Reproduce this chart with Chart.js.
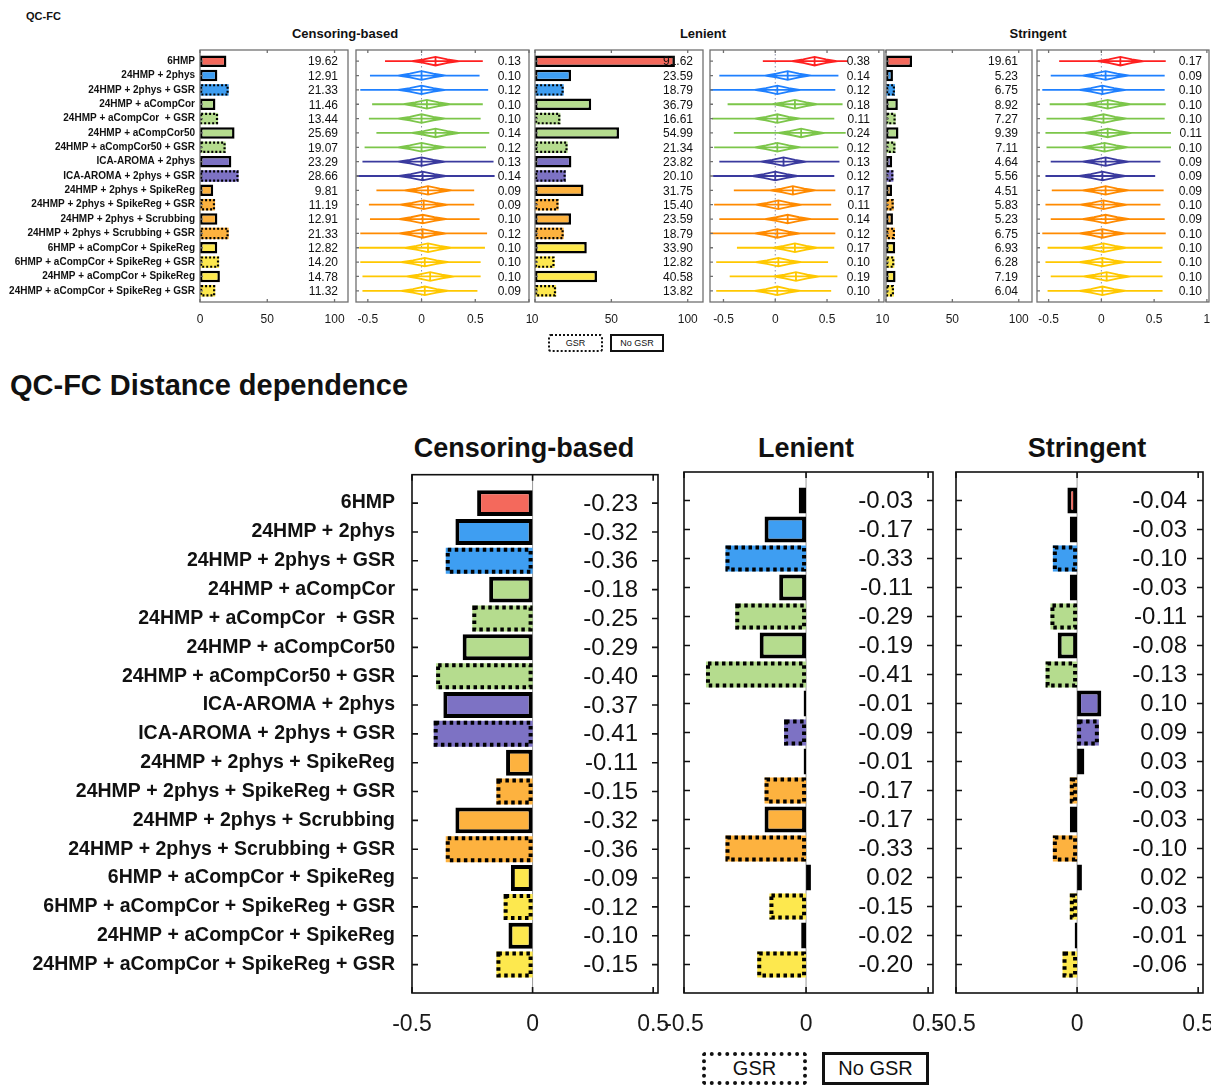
<!DOCTYPE html>
<html>
<head>
<meta charset="utf-8">
<script src="https://cdn.jsdelivr.net/npm/chart.js@4.4.1/dist/chart.umd.min.js"></script>
<style>
  body { margin: 0; width: 1211px; height: 1086px; position: relative; overflow: hidden; background: #fff;
         font-family: "Liberation Sans", Arial, sans-serif; color: #111; }
  .t { position: absolute; white-space: nowrap; font-weight: bold; transform: translate(-50%, -50%); }
  .lg { position: absolute; box-sizing: border-box; display: flex; align-items: center; justify-content: center; border-color: #000; }
</style>
</head>
<body>

<div style="position:absolute;left:26px;top:10px;font-size:11px;font-weight:bold;">QC-FC</div>
<div class="t" style="left:345px;top:33px;font-size:13px;">Censoring-based</div>
<div class="t" style="left:703px;top:33px;font-size:13px;">Lenient</div>
<div class="t" style="left:1038px;top:33px;font-size:13px;">Stringent</div>
<div class="lg" style="left:548px;top:334px;width:55px;height:18px;border:2px dotted;border-radius:3px;font-size:9px;">GSR</div>
<div class="lg" style="left:610px;top:334px;width:54px;height:18px;border:2px solid;font-size:9px;">No GSR</div>

<div style="position:absolute;left:10px;top:369px;font-size:29px;font-weight:bold;">QC-FC Distance dependence</div>
<div class="t" style="left:524px;top:448px;font-size:27px;">Censoring-based</div>
<div class="t" style="left:806px;top:448px;font-size:27px;">Lenient</div>
<div class="t" style="left:1087px;top:448px;font-size:27px;">Stringent</div>
<div class="lg" style="left:702px;top:1052px;width:105px;height:33px;border:4px dotted;border-radius:4px;font-size:20px;">GSR</div>
<div class="lg" style="left:822px;top:1052px;width:107px;height:33px;border:3px solid;font-size:20px;">No GSR</div>

<script>
// denoising pipelines, top to bottom
const pipelines = [
  '6HMP', '24HMP + 2phys', '24HMP + 2phys + GSR', '24HMP + aCompCor', '24HMP + aCompCor  + GSR',
  '24HMP + aCompCor50', '24HMP + aCompCor50 + GSR', 'ICA-AROMA + 2phys', 'ICA-AROMA + 2phys + GSR',
  '24HMP + 2phys + SpikeReg', '24HMP + 2phys + SpikeReg + GSR', '24HMP + 2phys + Scrubbing',
  '24HMP + 2phys + Scrubbing + GSR', '6HMP + aCompCor + SpikeReg', '6HMP + aCompCor + SpikeReg + GSR',
  '24HMP + aCompCor + SpikeReg', '24HMP + aCompCor + SpikeReg + GSR'
];
const gsrFlags = [0, 0, 1, 0, 1, 0, 1, 0, 1, 0, 1, 0, 1, 0, 1, 0, 1];
const families = [0, 1, 1, 2, 2, 2, 2, 3, 3, 4, 4, 4, 4, 5, 5, 5, 5];

const pctTicks = [0, 50, 100];
const rTicks = [-0.5, 0, 0.5, 1];
const distTicks = [-0.5, 0, 0.5];

// QC-FC: % significant edges
const pctCens = [19.62, 12.91, 21.33, 11.46, 13.44, 25.69, 19.07, 23.29, 28.66, 9.81, 11.19, 12.91, 21.33, 12.82, 14.20, 14.78, 11.32];
const pctLen  = [91.62, 23.59, 18.79, 36.79, 16.61, 54.99, 21.34, 23.82, 20.10, 31.75, 15.40, 23.59, 18.79, 33.90, 12.82, 40.58, 13.82];
const pctStr  = [19.61, 5.23, 6.75, 8.92, 7.27, 9.39, 7.11, 4.64, 5.56, 4.51, 5.83, 5.23, 6.75, 6.93, 6.28, 7.19, 6.04];

// QC-FC correlation distributions: printed value, median, range
const rCens = [0.13, 0.10, 0.12, 0.10, 0.10, 0.14, 0.12, 0.13, 0.14, 0.09, 0.09, 0.10, 0.12, 0.10, 0.10, 0.10, 0.09];
const rLen  = [0.38, 0.14, 0.12, 0.18, 0.11, 0.24, 0.12, 0.13, 0.12, 0.17, 0.11, 0.14, 0.12, 0.17, 0.10, 0.19, 0.10];
const rStr  = [0.17, 0.09, 0.10, 0.10, 0.10, 0.11, 0.10, 0.09, 0.09, 0.09, 0.10, 0.09, 0.10, 0.10, 0.10, 0.10, 0.10];

const medCens = [0.13, 0.00, 0.00, 0.05, 0.00, 0.13, 0.00, 0.00, 0.01, 0.06, 0.02, 0.01, 0.01, 0.06, 0.03, 0.08, 0.03];
const medLen  = [0.38, 0.12, 0.02, 0.19, 0.02, 0.25, 0.02, 0.08, 0.00, 0.17, 0.03, 0.12, 0.02, 0.19, 0.03, 0.20, 0.02];
const medStr  = [0.18, 0.04, 0.01, 0.06, 0.02, 0.06, 0.03, 0.04, 0.01, 0.04, 0.02, 0.04, 0.01, 0.02, 0.01, 0.05, 0.01];

const lowCens  = [-0.34, -0.48, -0.57, -0.46, -0.49, -0.42, -0.53, -0.55, -0.60, -0.42, -0.49, -0.48, -0.57, -0.58, -0.57, -0.55, -0.55];
const highCens = [0.57, 0.54, 0.62, 0.57, 0.55, 0.63, 0.60, 0.67, 0.68, 0.49, 0.49, 0.54, 0.61, 0.59, 0.55, 0.55, 0.52];
const lowLen   = [-0.12, -0.54, -0.63, -0.46, -0.61, -0.40, -0.59, -0.54, -0.60, -0.40, -0.59, -0.54, -0.63, -0.37, -0.57, -0.44, -0.57];
const highLen  = [0.70, 0.61, 0.58, 0.65, 0.57, 0.68, 0.61, 0.62, 0.57, 0.58, 0.54, 0.61, 0.58, 0.57, 0.51, 0.60, 0.54];
const lowStr   = [-0.40, -0.48, -0.56, -0.49, -0.52, -0.53, -0.52, -0.48, -0.53, -0.47, -0.53, -0.48, -0.56, -0.51, -0.53, -0.48, -0.51];
const highStr  = [0.61, 0.60, 0.60, 0.61, 0.60, 0.66, 0.66, 0.56, 0.51, 0.59, 0.56, 0.60, 0.61, 0.58, 0.57, 0.58, 0.58];

// QC-FC distance dependence
const distCens = [-0.23, -0.32, -0.36, -0.18, -0.25, -0.29, -0.40, -0.37, -0.41, -0.11, -0.15, -0.32, -0.36, -0.09, -0.12, -0.10, -0.15];
const distLen  = [-0.03, -0.17, -0.33, -0.11, -0.29, -0.19, -0.41, -0.01, -0.09, -0.01, -0.17, -0.17, -0.33, 0.02, -0.15, -0.02, -0.20];
const distStr  = [-0.04, -0.03, -0.10, -0.03, -0.11, -0.08, -0.13, 0.10, 0.09, 0.03, -0.03, -0.03, -0.10, 0.02, -0.03, -0.01, -0.06];

// styles
const FONT = '"Liberation Sans", Arial, sans-serif';
const fillColors = ['#f4695c', '#3e9ef2', '#b5dc8e', '#7d72c4', '#fdb23f', '#fde84e'];
const lineColors = ['#ff2020', '#1f80ff', '#7cc64a', '#3a3a9e', '#ff8a00', '#ffc800'];
const MARGIN = 80;   // room for edge tick labels, so the plot box stays where it is put

const TOP = {
  areaTop: 54, areaH: 244, padTop: 24, xh: 36, padY: 4,
  tickFont: {family: FONT, size: 12}, tickPad: 14,
  labelFont: '12px ' + FONT,
  frameColor: '#707070', frameWidth: 1.3, tick: 3, rightTicks: false,
  barPct: 0.8, solidW: 2.5, dotted: {width: 2.2, dash: [2, 2]},
  yFont: {family: FONT, size: 10, weight: 'bold'}, yPad: 5
};
const BOTTOM = {
  areaTop: 486, areaH: 493, padTop: 26, xh: 56, padY: 14,
  tickFont: {family: FONT, size: 23}, tickPad: 32,
  labelFont: '24px ' + FONT,
  frameColor: '#111', frameWidth: 1.6, tick: 6, rightTicks: true,
  barPct: 0.9, solidW: 4, dotted: {width: 4, dash: [3.5, 3.5]},
  yFont: {family: FONT, size: 19.5, weight: 'bold'}, yPad: 17
};

function makeCanvas(band, areaLeft, areaW, labelled) {
  const left = labelled ? 0 : areaLeft - MARGIN;
  const w = (labelled ? areaLeft : MARGIN) + areaW + MARGIN;
  const h = band.padTop + band.areaH + band.xh;
  const c = document.createElement('canvas');
  c.width = w; c.height = h;
  c.style.cssText = `position:absolute;left:${left}px;top:${band.areaTop - band.padTop}px;width:${w}px;height:${h}px;`;
  document.body.appendChild(c);
  return c;
}

// frame, inward ticks, zero line, dotted GSR outlines and the value column
function decor(band, cfg) {
  return {
    id: 'decor',
    beforeDatasetsDraw(chart) {
      if (!cfg.zero) return;
      const {ctx, chartArea: a} = chart;
      const px = chart.scales.x.getPixelForValue(0);
      ctx.save();
      ctx.strokeStyle = cfg.zeroColor;
      ctx.lineWidth = 1;
      if (cfg.zero === 'dotted') ctx.setLineDash([1.5, 2.5]);
      ctx.beginPath();
      ctx.moveTo(px, a.top - band.padY);
      ctx.lineTo(px, a.bottom + band.padY);
      ctx.stroke();
      ctx.restore();
    },
    afterDatasetsDraw(chart) {
      const {ctx, chartArea: a, scales: {x, y}} = chart;
      ctx.save();
      if (cfg.bars) {
        const w = band.dotted.width;
        chart.getDatasetMeta(0).data.forEach((bar, i) => {
          if (!gsrFlags[i]) return;
          const p = bar.getProps(['x', 'y', 'base', 'height'], true);
          const l = Math.min(p.x, p.base), r = Math.max(p.x, p.base);
          ctx.strokeStyle = '#000';
          ctx.lineWidth = w;
          ctx.setLineDash(band.dotted.dash);
          ctx.strokeRect(l + w / 2, p.y - p.height / 2 + w / 2, Math.max(r - l - w, 0.5), p.height - w);
        });
        ctx.setLineDash([]);
      }
      ctx.fillStyle = '#111';
      ctx.font = band.labelFont;
      ctx.textAlign = 'right';
      ctx.textBaseline = 'middle';
      cfg.values.forEach((v, i) => ctx.fillText(v.toFixed(2), a.right - cfg.inset, y.getPixelForValue(i) + 1));

      const top = a.top - band.padY, bot = a.bottom + band.padY;
      ctx.strokeStyle = band.frameColor;
      ctx.lineWidth = band.frameWidth;
      ctx.strokeRect(a.left, top, a.width, bot - top);
      ctx.beginPath();
      x.ticks.forEach(t => {
        const px = x.getPixelForValue(t.value);
        ctx.moveTo(px, bot); ctx.lineTo(px, bot - band.tick);
        ctx.moveTo(px, top); ctx.lineTo(px, top + band.tick);
      });
      cfg.values.forEach((v, i) => {
        const py = y.getPixelForValue(i);
        ctx.moveTo(a.left, py); ctx.lineTo(a.left + band.tick, py);
        if (band.rightTicks) { ctx.moveTo(a.right, py); ctx.lineTo(a.right - band.tick, py); }
      });
      ctx.stroke();
      ctx.restore();
    }
  };
}

function xAxis(band, min, max, tickVals) {
  return {
    type: 'linear', min, max,
    afterBuildTicks: s => { s.ticks = tickVals.map(v => ({value: v})); },
    ticks: { font: band.tickFont, color: '#1a1a1a', padding: band.tickPad, maxRotation: 0, autoSkip: false,
             callback: v => String(v) },
    grid: { display: false, drawTicks: false },
    border: { display: false },
    afterFit: s => { s.height = band.xh; }
  };
}

function baseOptions(band, labelled) {
  return {
    responsive: false, animation: false, events: [], devicePixelRatio: 1,
    layout: { padding: { left: labelled ? 0 : MARGIN, right: MARGIN, top: band.padTop, bottom: 0 } },
    plugins: { legend: { display: false }, tooltip: { enabled: false } }
  };
}

function barPanel(band, areaLeft, areaW, labelled, values, min, max, tickVals, cfg) {
  const opts = baseOptions(band, labelled);
  opts.indexAxis = 'y';
  opts.scales = {
    x: xAxis(band, min, max, tickVals),
    y: labelled ? {
      type: 'category',
      ticks: { font: band.yFont, color: '#111', padding: band.yPad, autoSkip: false },
      grid: { display: false, drawTicks: false },
      border: { display: false },
      afterFit: s => { s.width = areaLeft; }
    } : { type: 'category', display: false }
  };
  return new Chart(makeCanvas(band, areaLeft, areaW, labelled), {
    type: 'bar',
    data: {
      labels: pipelines,
      datasets: [{
        data: values,
        backgroundColor: families.map(f => fillColors[f]),
        borderColor: '#000',
        borderWidth: gsrFlags.map(g => g ? 0 : band.solidW),
        borderSkipped: false,
        barPercentage: band.barPct,
        categoryPercentage: 1
      }]
    },
    options: opts,
    plugins: [decor(band, Object.assign({bars: true, values}, cfg))]
  });
}

function violinPanel(band, areaLeft, areaW, shown, meds, lows, highs, min, max, cfg) {
  const hw = 0.22, hh = 0.3;   // body half-width (r units) and half-height (rows)
  const gap = {x: NaN, y: NaN};
  const datasets = meds.map((m, i) => ({
    data: [
      {x: lows[i], y: i}, {x: highs[i], y: i}, gap,
      {x: m - hw, y: i}, {x: m - hw / 2, y: i - hh * 0.42}, {x: m, y: i - hh},
      {x: m + hw / 2, y: i - hh * 0.42}, {x: m + hw, y: i}, {x: m + hw / 2, y: i + hh * 0.42},
      {x: m, y: i + hh}, {x: m - hw / 2, y: i + hh * 0.42}, {x: m - hw, y: i}, gap,
      {x: m, y: i - hh}, {x: m, y: i + hh}
    ],
    borderColor: lineColors[families[i]],
    borderWidth: 1.8,
    showLine: true,
    spanGaps: false,
    pointRadius: 0,
    tension: 0
  }));
  const opts = baseOptions(band, false);
  opts.scales = {
    x: xAxis(band, min, max, rTicks),
    y: { type: 'linear', reverse: true, min: -0.5, max: pipelines.length - 0.5, display: false }
  };
  return new Chart(makeCanvas(band, areaLeft, areaW, false), {
    type: 'scatter',
    data: { datasets },
    options: opts,
    plugins: [decor(band, Object.assign({values: shown, zero: 'dotted', zeroColor: '#8a8fa8'}, cfg))]
  });
}

// QC-FC
barPanel(TOP, 200, 148, true, pctCens, 0, 110, pctTicks, {inset: 10});
violinPanel(TOP, 356, 173, rCens, medCens, lowCens, highCens, -0.61, 1.0, {inset: 8});
barPanel(TOP, 535, 168, false, pctLen, 0, 110, pctTicks, {inset: 10});
violinPanel(TOP, 710, 174, rLen, medLen, lowLen, highLen, -0.63, 1.05, {inset: 14});
barPanel(TOP, 886, 146, false, pctStr, 0, 110, pctTicks, {inset: 14});
violinPanel(TOP, 1037, 172, rStr, medStr, lowStr, highStr, -0.61, 1.02, {inset: 7});

// QC-FC distance dependence
const distCfg = {inset: 20, zero: 'solid', zeroColor: '#9a9a9a'};
barPanel(BOTTOM, 412, 246, true, distCens, -0.5, 0.52, distTicks, distCfg);
barPanel(BOTTOM, 684, 249, false, distLen, -0.5, 0.52, distTicks, distCfg);
barPanel(BOTTOM, 956, 247, false, distStr, -0.5, 0.52, distTicks, Object.assign({}, distCfg, {inset: 16}));
</script>
</body>
</html>
